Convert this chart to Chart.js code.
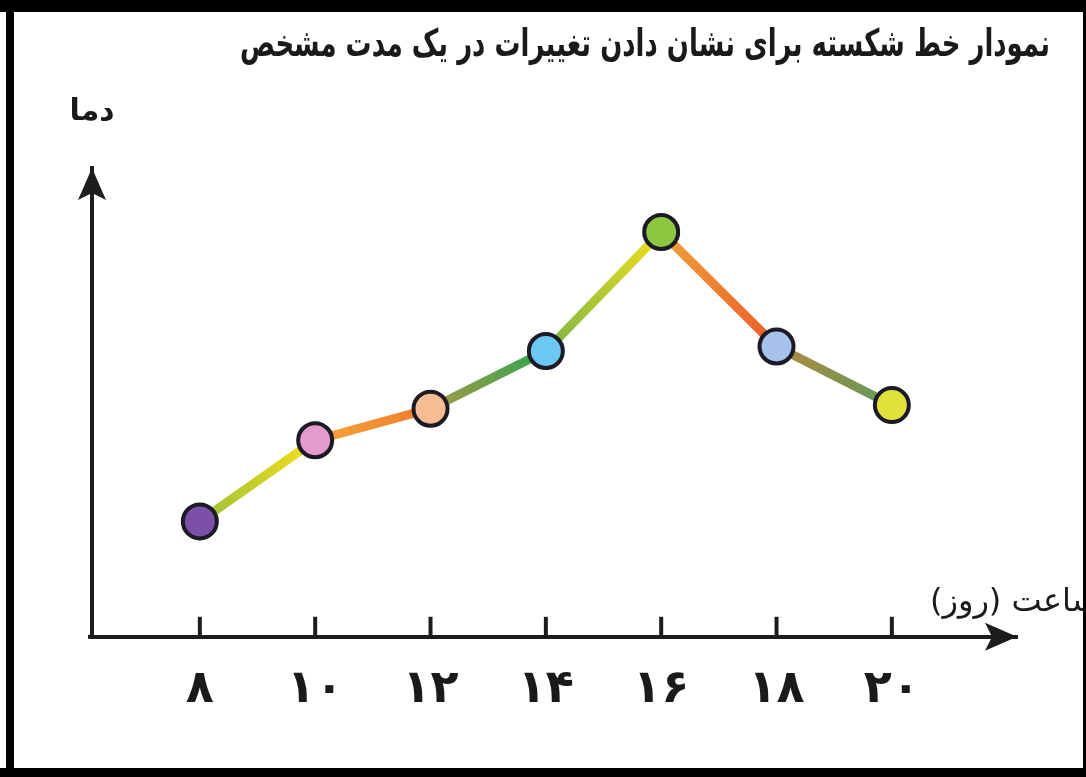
<!DOCTYPE html>
<html lang="fa">
<head>
<meta charset="utf-8">
<script src="https://cdn.jsdelivr.net/npm/chart.js@4.4.1/dist/chart.umd.min.js"></script>
<style>
  html, body { margin: 0; padding: 0; background: #fff; overflow: hidden; }
  #c { display: block; }
</style>
</head>
<body>
<canvas id="c" width="1086" height="777"></canvas>
<script>
// ---- data ----
const hours = [8, 10, 12, 14, 16, 18, 20];
const hourLabels = ['۸', '۱۰', '۱۲', '۱۴', '۱۶', '۱۸', '۲۰'];
const temperature = [12.8, 21.8, 25.3, 31.7, 44.9, 32.2, 25.7];
const pointColors = ['#7c4fa8', '#e39bcc', '#f6bd92', '#6cc8f2', '#8dc63f', '#a6c1ea', '#e0e23b'];
const segmentColors = [
  ['#9dbf3a', '#f5e01c'],
  ['#f6a53a', '#ee7a2c'],
  ['#a99a48', '#2ea44f'],
  ['#7bb445', '#f2df20'],
  ['#f0a23a', '#ec5b2a'],
  ['#b0893f', '#5f9b5c']
];
const titleText = 'نمودار خط شکسته برای نشان دادن تغییرات در یک مدت مشخص';
const yAxisLabel = 'دما';
const xAxisLabel = 'ساعت (روز)';

const AXIS = '#1c1c1c';
const ARABIC_FONT = '"DejaVu Sans", "Noto Sans", sans-serif';

const canvas = document.getElementById('c');
const ctx2d = canvas.getContext('2d');

function segGradient(c) {
  const i = c.p0DataIndex;
  const g = ctx2d.createLinearGradient(c.p0.x, c.p0.y, c.p1.x, c.p1.y);
  g.addColorStop(0, segmentColors[i][0]);
  g.addColorStop(1, segmentColors[i][1]);
  return g;
}

const decor = {
  id: 'decor',
  beforeDraw(chart) {
    const ctx = chart.ctx;
    ctx.save();
    ctx.fillStyle = '#ffffff';
    ctx.fillRect(0, 0, chart.width, chart.height);
    ctx.restore();
  },
  beforeDatasetsDraw(chart) {
    const ctx = chart.ctx;
    const xs = chart.scales.x;
    const area = chart.chartArea;
    const yAxisX = area.left;
    const xAxisY = area.bottom;
    ctx.save();
    ctx.fillStyle = AXIS;
    ctx.strokeStyle = AXIS;
    // tick marks (upward) at each hour
    ctx.lineWidth = 4;
    hours.forEach(h => {
      const px = xs.getPixelForValue(h);
      ctx.beginPath();
      ctx.moveTo(px, xAxisY);
      ctx.lineTo(px, xAxisY - 20);
      ctx.stroke();
    });
    // x axis slight left extension
    ctx.beginPath();
    ctx.moveTo(area.left - 4, xAxisY);
    ctx.lineTo(area.left + 2, xAxisY);
    ctx.stroke();
    // y arrowhead
    ctx.beginPath();
    ctx.moveTo(yAxisX, area.top);
    ctx.lineTo(yAxisX - 14, area.top + 32);
    ctx.lineTo(yAxisX, area.top + 25);
    ctx.lineTo(yAxisX + 14, area.top + 32);
    ctx.closePath();
    ctx.fill();
    // x arrowhead
    ctx.beginPath();
    ctx.moveTo(area.right, xAxisY);
    ctx.lineTo(area.right - 32, xAxisY - 14);
    ctx.lineTo(area.right - 25, xAxisY);
    ctx.lineTo(area.right - 32, xAxisY + 14);
    ctx.closePath();
    ctx.fill();
    ctx.restore();
  },
  afterDraw(chart) {
    const ctx = chart.ctx;
    ctx.save();
    // texts
    ctx.fillStyle = '#1a1a1a';
    ctx.direction = 'rtl';
    ctx.textBaseline = 'middle';
    // title (fit to reference width)
    ctx.font = 'bold 38px ' + ARABIC_FONT;
    const w = ctx.measureText(titleText).width;
    const targetW = 810;
    ctx.save();
    ctx.translate(1050, 46);
    ctx.scale(targetW / w, 1);
    ctx.textAlign = 'right';
    ctx.fillText(titleText, 0, 0);
    ctx.restore();
    // y label
    ctx.font = 'bold 30px ' + ARABIC_FONT;
    ctx.textAlign = 'center';
    ctx.fillText(yAxisLabel, 92, 112);
    // x label
    ctx.font = '32px ' + ARABIC_FONT;
    ctx.textAlign = 'left';
    ctx.fillText(xAxisLabel, 930, 603);
    ctx.restore();

    // frame
    ctx.save();
    ctx.fillStyle = '#000';
    ctx.fillRect(0, 0, chart.width, 12);       // top
    ctx.fillRect(0, 768, chart.width, 9);      // bottom
    ctx.fillRect(6, 0, 8, chart.height);       // left
    ctx.fillRect(1083, 0, 3, chart.height);    // right
    ctx.fillStyle = '#fff';
    ctx.fillRect(0, 12, 6, 756);
    ctx.restore();
  }
};

new Chart(canvas, {
  type: 'line',
  data: {
    datasets: [{
      data: hours.map((h, i) => ({ x: h, y: temperature[i] })),
      borderWidth: 9,
      borderColor: '#f0c030',
      segment: { borderColor: segGradient },
      tension: 0,
      pointRadius: 17,
      pointHoverRadius: 17,
      pointBackgroundColor: pointColors,
      pointBorderColor: '#1c1a24',
      pointBorderWidth: 4,
      clip: false
    }]
  },
  options: {
    responsive: false,
    animation: false,
    events: [],
    layout: { padding: { left: 92, right: 69, top: 168, bottom: 33 } },
    plugins: { legend: { display: false }, tooltip: { enabled: false }, title: { display: false } },
    scales: {
      x: {
        type: 'linear',
        min: 6.13,
        max: 22.17,
        grid: { display: false, drawTicks: false },
        border: { display: true, color: AXIS, width: 4 },
        afterBuildTicks: (s) => { s.ticks = hours.map(v => ({ value: v })); },
        ticks: {
          padding: 26,
          color: '#1a1a1a',
          font: { family: ARABIC_FONT, size: 46, weight: 'bold' },
          maxRotation: 0,
          autoSkip: false,
          callback: (v) => hourLabels[hours.indexOf(v)]
        }
      },
      y: {
        min: 0,
        max: 52,
        grid: { display: false, drawTicks: false },
        border: { display: true, color: AXIS, width: 4 },
        ticks: { display: false }
      }
    }
  },
  plugins: [decor]
});
</script>
</body>
</html>
